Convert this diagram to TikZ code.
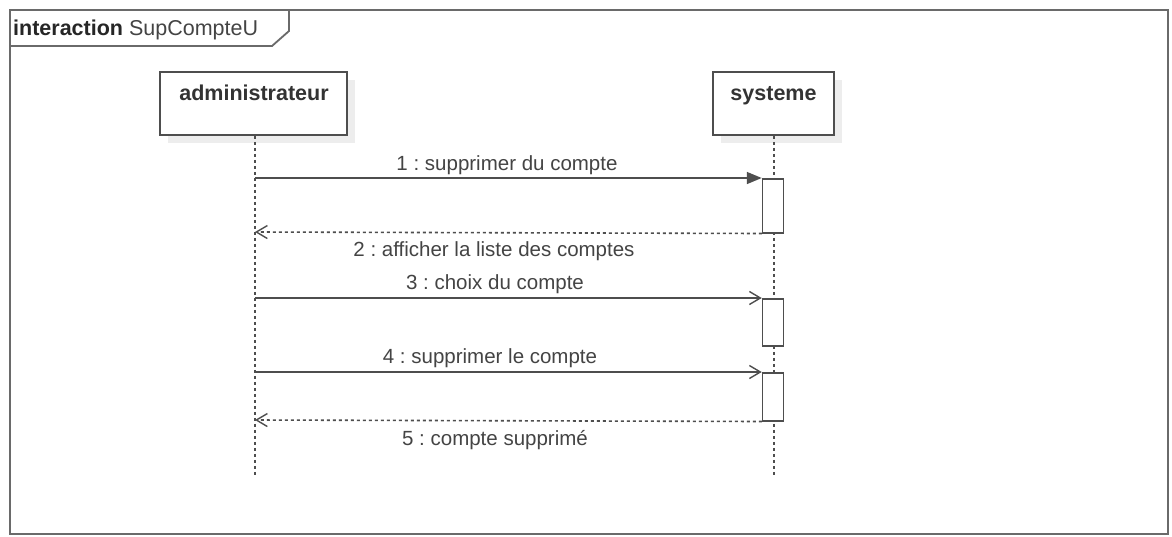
\documentclass[tikz,border=0pt]{standalone}
\usepackage{fontspec}
\setmainfont{Liberation Sans}
\usetikzlibrary{arrows.meta}
\definecolor{linegray}{HTML}{4E4E4E}
\definecolor{framegray}{HTML}{6A6A6A}
\definecolor{textgray}{HTML}{444444}
\definecolor{shadowgray}{HTML}{EDEDED}
\frenchspacing
\begin{document}
\begin{tikzpicture}[x=1pt,y=-1pt,
  frameline/.style={draw=framegray,line width=1.8pt},
  actorbox/.style={draw=linegray,line width=1.8pt,fill=white,rectangle,inner sep=0pt},
  actorname/.style={text=black!80,font=\fontsize{21.5}{24}\selectfont\bfseries,anchor=base},
  lifeline/.style={draw=linegray,line width=1.8pt,dash pattern=on 3pt off 3pt},
  activation/.style={draw=linegray,line width=1.5pt,fill=white,rectangle,inner sep=0pt,minimum width=21pt},
  callmsg/.style={draw=linegray,line width=1.6pt,-{Triangle[length=15pt,width=12pt]}},
  asyncmsg/.style={draw=linegray,line width=1.6pt,-{Straight Barb[length=11pt,width=13pt,line width=1.4pt]}},
  replymsg/.style={draw=linegray,line width=1.6pt,dash pattern=on 3pt off 3pt,-{Straight Barb[length=11pt,width=13pt,line width=1.4pt]}},
  msglabel/.style={text=textgray,font=\fontsize{20.5}{24}\selectfont,anchor=base,inner sep=0pt}
]
\useasboundingbox (0,0) rectangle (1172,536);
\fill[white] (0,0) rectangle (1172,536);

% interaction frame and its name tab
\draw[frameline] (10,10) rectangle (1168,534);
\draw[frameline] (10,46) -- (272,46) -- (289,31) -- (289,10);
\node[anchor=base west,inner sep=0pt,text=black!85,font=\fontsize{21.5}{24}\selectfont]
  (title) at (13,35) {\textbf{interaction} \textcolor{textgray}{SupCompteU}};

% lifeline heads with soft shadows
\fill[shadowgray] (168,80) rectangle (355,143);
\fill[shadowgray] (721,80) rectangle (842,143);
\node[actorbox,minimum width=187pt,minimum height=63pt] (admin) at (253.5,103.5) {};
\node[actorbox,minimum width=121pt,minimum height=63pt] (sys) at (773.5,103.5) {};
\node[actorname] (adminname) at (254,100) {administrateur};
\node[actorname] (sysname) at (773.5,100) {systeme};

% lifeline ends
\coordinate (adminend) at (255,477);
\coordinate (sysend) at (774,477);
\draw[lifeline] (admin.south -| adminend) -- (adminend);
\draw[lifeline] (sys.south -| sysend) -- (sysend);

% execution occurrences on the system lifeline
\node[activation,minimum height=54pt,anchor=north] (act1) at (773,178) {};
\node[activation,minimum height=47pt,anchor=north] (act2) at (773,298) {};
\node[activation,minimum height=48pt,anchor=north] (act3) at (773,372) {};

% message endpoints on the administrator lifeline
\coordinate (m1) at (255,178);
\coordinate (m2) at (255,232);
\coordinate (m3) at (255,298);
\coordinate (m4) at (255,372);
\coordinate (m5) at (255,420);

% messages
\draw[callmsg] (m1) -- (act1.north west);
\draw[replymsg] (act1.south west) -- (m2);
\draw[asyncmsg] (m3) -- (act2.north west);
\draw[asyncmsg] (m4) -- (act3.north west);
\draw[replymsg] (act3.south west) -- (m5);

% message labels
\node[msglabel] (l1) at (507,170) {1 : supprimer du compte};
\node[msglabel] (l2) at (494,256) {2 : afficher la liste des comptes};
\node[msglabel] (l3) at (495,289) {3 : choix du compte};
\node[msglabel] (l4) at (490,363) {4 : supprimer le compte};
\node[msglabel] (l5) at (495,445) {5 : compte supprimé};
\end{tikzpicture}
\end{document}
